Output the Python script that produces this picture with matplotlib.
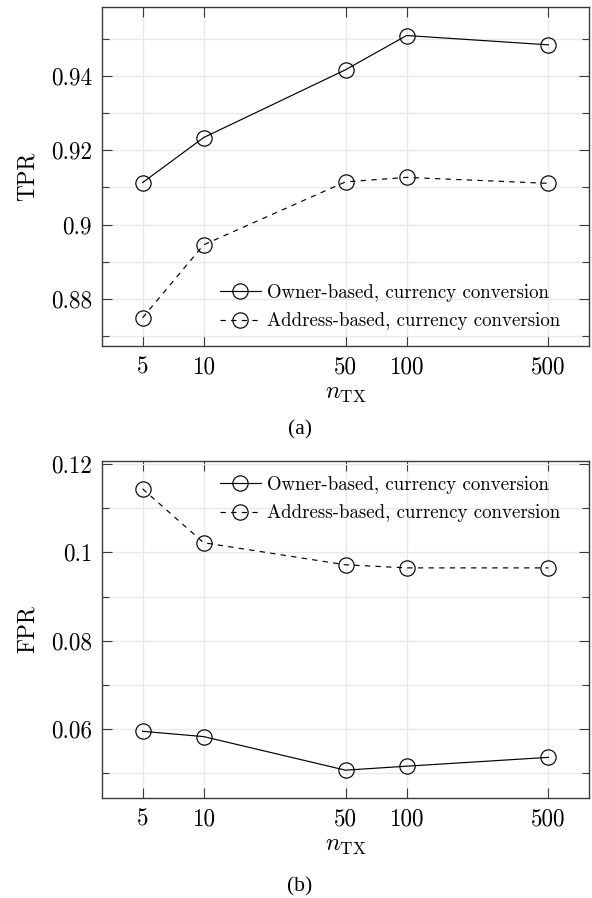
import matplotlib
matplotlib.use("Agg")
import matplotlib.pyplot as plt
from matplotlib.ticker import FixedLocator, NullLocator, FixedFormatter

plt.rcParams['mathtext.fontset'] = 'cm'
plt.rcParams['axes.unicode_minus'] = False

# ---- data ----
n_tx = [5, 10, 50, 100, 500]
x_tick_labels = ["5", "10", "50", "100", "500"]

tpr_owner = [0.9113, 0.9234, 0.9416, 0.9508, 0.9483]
tpr_address = [0.8750, 0.8946, 0.9115, 0.9127, 0.9111]

fpr_owner = [0.0595, 0.0583, 0.0507, 0.0516, 0.0536]
fpr_address = [0.1144, 0.1022, 0.0972, 0.0965, 0.0965]

tpr_major = [0.88, 0.90, 0.92, 0.94]
tpr_major_labels = ["0.88", "0.9", "0.92", "0.94"]
tpr_minor = [0.87, 0.89, 0.91, 0.93, 0.95]

fpr_major = [0.06, 0.08, 0.10, 0.12]
fpr_major_labels = ["0.06", "0.08", "0.1", "0.12"]
fpr_minor = [0.05, 0.07, 0.09, 0.11]

legend_labels = ["Owner-based, currency conversion",
                 "Address-based, currency conversion"]

W, H = 592, 898
fig = plt.figure(figsize=(W / 100, H / 100), dpi=100)

def ax_rect(left, top, right, bottom):
    return [left / W, 1 - bottom / H, (right - left) / W, (bottom - top) / H]

ax1 = fig.add_axes(ax_rect(102, 7.3, 589, 346))
ax2 = fig.add_axes(ax_rect(102, 460.7, 589, 798.3))

TICK_FS = 16.7
LEG_FS = 13.6
CM = 'cmr10'
SPINE = '#3a3a3a'
GRID = '#e9e9e9'

def style(ax, owner, address, ylab, major, major_labels, minor, legend_y):
    ax.set_xscale('log')
    l1, = ax.plot(n_tx, owner, color='black', lw=0.85, marker='o', ms=11,
                  mfc='none', mec='black', mew=0.85, zorder=3)
    l2, = ax.plot(n_tx, address, color='black', lw=0.85, ls=(0, (4.5, 4.5)),
                  marker='o', ms=11, mfc='none', mec='black', mew=0.85, zorder=3)
    ax.margins(x=0.1, y=0.1)
    ax.xaxis.set_major_locator(FixedLocator(n_tx))
    ax.xaxis.set_major_formatter(FixedFormatter(x_tick_labels))
    ax.xaxis.set_minor_locator(NullLocator())
    ax.yaxis.set_major_locator(FixedLocator(major))
    ax.yaxis.set_major_formatter(FixedFormatter(major_labels))
    ax.yaxis.set_minor_locator(FixedLocator(minor))
    ax.grid(True, which='major', color=GRID, lw=1.0, zorder=0)
    ax.grid(True, which='minor', axis='y', color=GRID, lw=1.0, zorder=0)
    ax.set_axisbelow(True)
    ax.tick_params(which='major', direction='in', length=7, width=0.8,
                   color=SPINE, top=True, right=True, pad=7.2,
                   labelsize=TICK_FS)
    ax.tick_params(which='minor', direction='in', length=5, width=0.8,
                   color=SPINE, top=True, right=True)
    for lab in ax.get_xticklabels() + ax.get_yticklabels():
        lab.set_fontfamily(CM)
    for s in ax.spines.values():
        s.set_color(SPINE)
        s.set_linewidth(1.0)
    ax.set_ylabel(ylab, fontfamily=CM, fontsize=TICK_FS, labelpad=9)
    ax.set_xlabel(r'$n_{\mathrm{TX}}$', fontsize=TICK_FS + 1, labelpad=2)
    leg = ax.legend([l1, l2], legend_labels, loc='center left',
                    bbox_to_anchor=(0.2423, legend_y), frameon=False,
                    borderpad=0, borderaxespad=0, handlelength=2.15,
                    handletextpad=0.35, labelspacing=0.55,
                    prop={'family': CM, 'size': LEG_FS})
    return leg

style(ax1, tpr_owner, tpr_address, 'TPR', tpr_major, tpr_major_labels,
      tpr_minor, 0.1143)
style(ax2, fpr_owner, fpr_address, 'FPR', fpr_major, fpr_major_labels,
      fpr_minor, 0.886)

fig.text(300 / W, 1 - 430 / H, '(a)', family='Liberation Serif',
         fontsize=15.5, ha='center', va='center')
fig.text(300 / W, 1 - 887 / H, '(b)', family='Liberation Serif',
         fontsize=15.5, ha='center', va='center')

fig.savefig('out.png', dpi=100)
